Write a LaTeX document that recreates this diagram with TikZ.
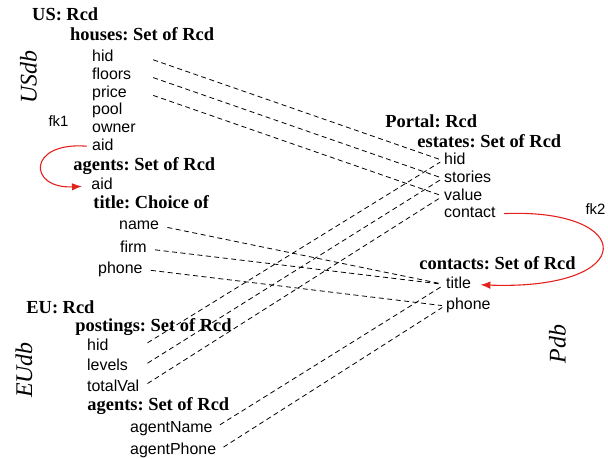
\documentclass[tikz,border=0pt]{standalone}
\usepackage{fontspec}
\setmainfont{Liberation Serif}
\setsansfont{Liberation Sans}
\usetikzlibrary{arrows.meta,positioning}
\definecolor{fkred}{HTML}{E4211C}
\frenchspacing

\begin{document}
\begin{tikzpicture}[x=1bp,y=-1bp,every node/.style={inner sep=1.2bp},
  head/.style={anchor=west,font=\bfseries\fontsize{18.5}{18.5}\selectfont,text height=12.5bp,text depth=4bp},
  attr/.style={anchor=west,font=\sffamily\fontsize{16}{16}\selectfont,text height=11.5bp,text depth=3.5bp},
  col/.style={text width=53bp,align=left},
  dbname/.style={font=\itshape\fontsize{24}{24}\selectfont,rotate=90},
  fklabel/.style={font=\sffamily\fontsize{15}{15}\selectfont},
  link/.style={line width=0.8bp,dash pattern=on 5bp off 3.5bp,shorten <=7bp,shorten >=3bp},
  fkline/.style={fkred,line width=1.1bp,-{Latex[length=10bp,width=7.5bp]}}]
\useasboundingbox (0,0) rectangle (608,459);
% US database
\node[dbname] (usdb) at (28.5,77) {USdb};
\node[head] (us) at (30.8,16) {US: Rcd};
\node[head] (houses) at (68.8,36) {houses: Set of Rcd};
\node[attr,col] (uhid) at (90.8,57.5) {hid};
\node[attr,col,below right=0pt of uhid.south west] (ufloors) {floors};
\node[attr,col,below right=0pt of ufloors.south west] (uprice) {price};
\node[attr,col,below right=0pt of uprice.south west] (upool) {pool};
\node[attr,col,below right=0pt of upool.south west] (uowner) {owner};
\node[attr,col,below right=0pt of uowner.south west] (uaid) {aid};
\node[fklabel] (fkone) at (58.5,121) {fk1};
\node[head] (agents) at (72,166.5) {agents: Set of Rcd};
\node[attr] (aaid) at (90,186) {aid};
\node[head] (title) at (92,204.5) {title: Choice of};
\node[attr] (tname) at (117.8,226) {name};
\node[attr] (tfirm) at (118.8,249) {firm};
\node[attr] (tphone) at (96.8,269.5) {phone};
% EU database
\node[dbname] (eudb) at (24,370) {EUdb};
\node[head] (eu) at (25,309) {EU: Rcd};
\node[head] (postings) at (74,327) {postings: Set of Rcd};
\node[attr,col] (ehid) at (85.8,346.5) {hid};
\node[attr,col,below right=2.6bp and 0pt of ehid.south west] (elevels) {levels};
\node[attr,col,below right=2.6bp and 0pt of elevels.south west] (etotal) {totalVal};
\node[head] (eagents) at (86,406) {agents: Set of Rcd};
\node[attr] (aname) at (128.8,428.5) {agentName};
\node[attr,below right=4.6bp and 0pt of aname.south west] (aphone) {agentPhone};
% Portal database
\node[dbname] (pdb) at (557.5,344) {Pdb};
\node[head] (portal) at (384,123) {Portal: Rcd};
\node[head] (estates) at (416,143) {estates: Set of Rcd};
\node[attr] (phid) at (442.8,160.5) {hid};
\node[attr,below right=0pt of phid.south west] (pstories) {stories};
\node[attr,below right=0pt of pstories.south west] (pvalue) {value};
\node[attr,below right=0pt of pvalue.south west] (pcontact) {contact};
\node[fklabel] (fktwo) at (595.5,209) {fk2};
\node[head] (contacts) at (418,265) {contacts: Set of Rcd};
\node[attr] (ptitle) at (444.8,284.5) {title};
\node[attr,below right=3.6bp and 0pt of ptitle.south west] (pphone) {phone};
% mappings
\draw[link] (uhid.east)--(phid.west);
\draw[link] (ufloors.east)--(pstories.west);
\draw[link] (uprice.east)--(pvalue.west);
\draw[link] (tname.east)--(ptitle.west);
\draw[link] (tfirm.east)--(ptitle.west);
\draw[link] (tphone.east)--(pphone.west);
\draw[link] (ehid.east)--(phid.west);
\draw[link] (elevels.east)--(pstories.west);
\draw[link] (etotal.east)--(pvalue.west);
\draw[link] (aname.east)--(ptitle.west);
\draw[link] (aphone.east)--(pphone.west);
% foreign keys
\draw[fkline,shorten <=4bp,shorten >=8bp] (uaid.west) .. controls +(-64,-5) and +(-62,3) .. (aaid.west);
\draw[fkline,shorten <=7bp,shorten >=8bp] (pcontact.east) .. controls +(140,-6) and +(168,6) .. (ptitle.east);
\end{tikzpicture}
\end{document}
